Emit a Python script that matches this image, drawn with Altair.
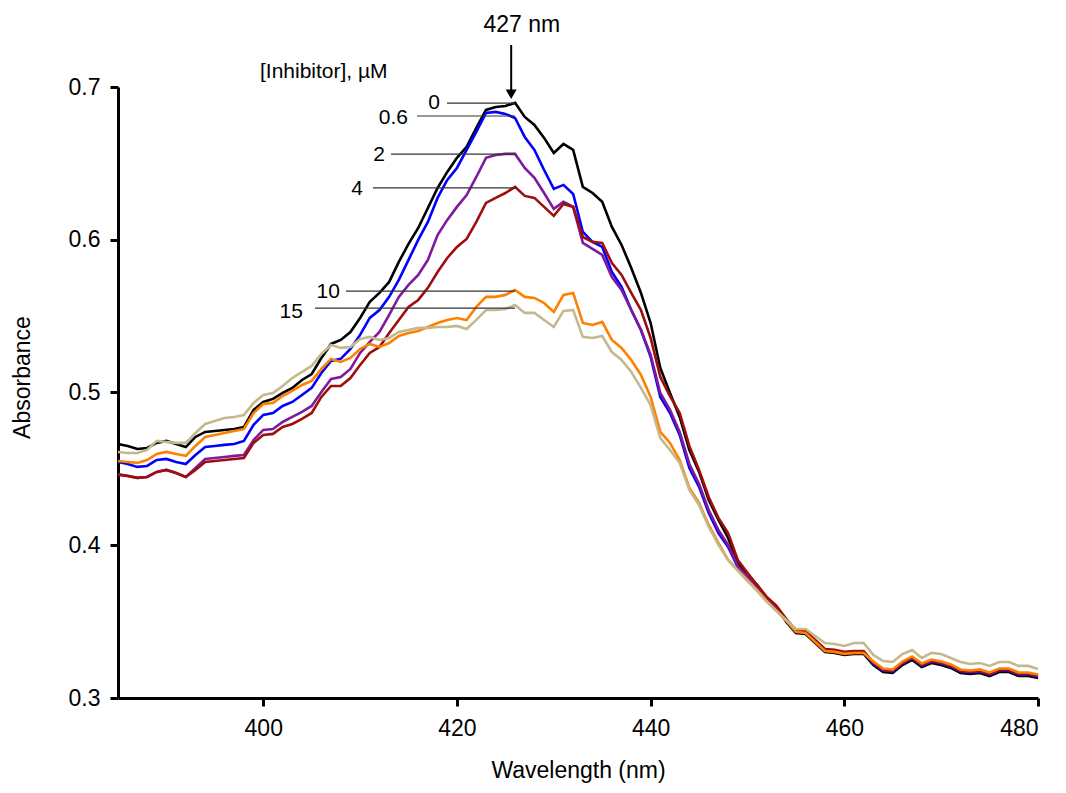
import altair as alt
import pandas as pd

wavelength = list(range(385, 481))
conc_labels = ["0", "0.6", "2", "4", "10", "15"]
colors = ["#000000", "#0000FF", "#7F1A9E", "#A00D0D", "#FF8000", "#C4B98C"]

abs_0 = [0.4663, 0.4650, 0.4630, 0.4637, 0.4670, 0.4683, 0.4663, 0.4643, 0.4709, 0.4742,
         0.4748, 0.4755, 0.4761, 0.4774, 0.4886, 0.4938, 0.4958, 0.4997, 0.5030, 0.5082,
         0.5121, 0.5226, 0.5318, 0.5344, 0.5396, 0.5488, 0.5593, 0.5652, 0.5724, 0.5855,
         0.5973, 0.6077, 0.6208, 0.6339, 0.6444, 0.6536, 0.6608, 0.6732, 0.6850, 0.6869,
         0.6876, 0.6896, 0.6804, 0.6752, 0.6667, 0.6568, 0.6627, 0.6588, 0.6346, 0.6306,
         0.6248, 0.6084, 0.5966, 0.5815, 0.5652, 0.5455, 0.5161, 0.4997, 0.4840, 0.4624,
         0.4480, 0.4296, 0.4166, 0.4048, 0.3884, 0.3792, 0.3740, 0.3655, 0.3596,
         0.3498, 0.3426, 0.3419, 0.3360, 0.3301, 0.3295, 0.3282, 0.3288, 0.3288, 0.3216,
         0.3170, 0.3164, 0.3216, 0.3249, 0.3203, 0.3229, 0.3216, 0.3197, 0.3164, 0.3157,
         0.3164, 0.3144, 0.3170, 0.3170, 0.3144, 0.3144, 0.3131]

abs_06 = [0.4545, 0.4532, 0.4513, 0.4519, 0.4558, 0.4565, 0.4545, 0.4532, 0.4591, 0.4643,
          0.4650, 0.4657, 0.4663, 0.4683, 0.4788, 0.4853, 0.4866, 0.4912, 0.4938, 0.4984,
          0.5030, 0.5128, 0.5207, 0.5220, 0.5285, 0.5377, 0.5488, 0.5540, 0.5626, 0.5737,
          0.5868, 0.5999, 0.6117, 0.6274, 0.6392, 0.6470, 0.6588, 0.6706, 0.6830, 0.6837,
          0.6824, 0.6797, 0.6673, 0.6588, 0.6457, 0.6333, 0.6359, 0.6300, 0.6051, 0.5986,
          0.5953, 0.5789, 0.5691, 0.5540, 0.5409, 0.5233, 0.4971, 0.4866, 0.4722, 0.4506,
          0.4382, 0.4211, 0.4080, 0.3989, 0.3858, 0.3786, 0.3720, 0.3642, 0.3583,
          0.3508, 0.3436, 0.3429, 0.3370, 0.3311, 0.3305, 0.3292, 0.3298, 0.3298, 0.3226,
          0.3180, 0.3174, 0.3226, 0.3259, 0.3213, 0.3239, 0.3226, 0.3207, 0.3174, 0.3167,
          0.3174, 0.3154, 0.3180, 0.3180, 0.3154, 0.3154, 0.3141]

abs_2 = [0.4467, 0.4454, 0.4441, 0.4447, 0.4480, 0.4493, 0.4473, 0.4447, 0.4506, 0.4565,
         0.4571, 0.4578, 0.4585, 0.4591, 0.4689, 0.4755, 0.4761, 0.4807, 0.4840, 0.4873,
         0.4912, 0.5004, 0.5089, 0.5102, 0.5154, 0.5259, 0.5331, 0.5396, 0.5508, 0.5626,
         0.5704, 0.5770, 0.5868, 0.6031, 0.6130, 0.6215, 0.6293, 0.6411, 0.6536, 0.6555,
         0.6562, 0.6562, 0.6470, 0.6405, 0.6306, 0.6202, 0.6248, 0.6215, 0.5979, 0.5940,
         0.5901, 0.5756, 0.5671, 0.5540, 0.5409, 0.5246, 0.4997, 0.4886, 0.4742, 0.4532,
         0.4401, 0.4231, 0.4100, 0.4002, 0.3864, 0.3792, 0.3727, 0.3648, 0.3589,
         0.3511, 0.3439, 0.3432, 0.3373, 0.3314, 0.3308, 0.3295, 0.3301, 0.3301, 0.3229,
         0.3183, 0.3177, 0.3229, 0.3262, 0.3216, 0.3242, 0.3229, 0.3210, 0.3177, 0.3170,
         0.3177, 0.3157, 0.3183, 0.3183, 0.3157, 0.3157, 0.3144]

abs_4 = [0.4460, 0.4454, 0.4441, 0.4447, 0.4480, 0.4493, 0.4473, 0.4447, 0.4493, 0.4545,
         0.4552, 0.4558, 0.4565, 0.4571, 0.4670, 0.4722, 0.4729, 0.4774, 0.4794, 0.4827,
         0.4866, 0.4971, 0.5043, 0.5043, 0.5095, 0.5180, 0.5259, 0.5298, 0.5390, 0.5475,
         0.5560, 0.5606, 0.5685, 0.5789, 0.5881, 0.5953, 0.6005, 0.6117, 0.6241, 0.6274,
         0.6306, 0.6346, 0.6287, 0.6274, 0.6215, 0.6156, 0.6234, 0.6215, 0.6018, 0.5986,
         0.5979, 0.5848, 0.5770, 0.5652, 0.5540, 0.5357, 0.5102, 0.4977, 0.4866, 0.4650,
         0.4493, 0.4316, 0.4179, 0.4080, 0.3904, 0.3819, 0.3740, 0.3661, 0.3603,
         0.3518, 0.3446, 0.3439, 0.3380, 0.3321, 0.3315, 0.3302, 0.3308, 0.3308, 0.3232,
         0.3186, 0.3180, 0.3232, 0.3265, 0.3219, 0.3245, 0.3232, 0.3213, 0.3180, 0.3173,
         0.3180, 0.3160, 0.3186, 0.3186, 0.3160, 0.3160, 0.3147]

abs_10 = [0.4552, 0.4545, 0.4539, 0.4558, 0.4598, 0.4611, 0.4598, 0.4585, 0.4650, 0.4709,
          0.4722, 0.4735, 0.4748, 0.4761, 0.4866, 0.4925, 0.4932, 0.4977, 0.5010, 0.5049,
          0.5076, 0.5154, 0.5220, 0.5200, 0.5226, 0.5285, 0.5318, 0.5298, 0.5324, 0.5370,
          0.5390, 0.5403, 0.5429, 0.5455, 0.5475, 0.5488, 0.5475, 0.5560, 0.5626, 0.5626,
          0.5639, 0.5671, 0.5626, 0.5619, 0.5586, 0.5527, 0.5639, 0.5652, 0.5455, 0.5442,
          0.5462, 0.5344, 0.5292, 0.5213, 0.5115, 0.4971, 0.4742, 0.4670, 0.4558, 0.4375,
          0.4277, 0.4133, 0.4015, 0.3904, 0.3838, 0.3773, 0.3707, 0.3635, 0.3570,
          0.3505, 0.3433, 0.3426, 0.3367, 0.3308, 0.3302, 0.3289, 0.3295, 0.3295, 0.3239,
          0.3193, 0.3187, 0.3239, 0.3272, 0.3226, 0.3252, 0.3239, 0.3220, 0.3187, 0.3180,
          0.3187, 0.3167, 0.3193, 0.3193, 0.3167, 0.3167, 0.3154]

abs_15 = [0.4611, 0.4604, 0.4604, 0.4624, 0.4683, 0.4676, 0.4670, 0.4670, 0.4735, 0.4794,
          0.4814, 0.4833, 0.4840, 0.4853, 0.4932, 0.4984, 0.4997, 0.5043, 0.5095, 0.5135,
          0.5174, 0.5252, 0.5311, 0.5292, 0.5298, 0.5351, 0.5364, 0.5344, 0.5357, 0.5396,
          0.5409, 0.5423, 0.5423, 0.5429, 0.5429, 0.5436, 0.5416, 0.5475, 0.5540, 0.5540,
          0.5547, 0.5573, 0.5521, 0.5521, 0.5475, 0.5429, 0.5534, 0.5540, 0.5364, 0.5357,
          0.5370, 0.5265, 0.5213, 0.5135, 0.5030, 0.4918, 0.4702, 0.4624, 0.4539, 0.4362,
          0.4264, 0.4120, 0.4002, 0.3904, 0.3832, 0.3766, 0.3701, 0.3629, 0.3570,
          0.3511, 0.3452, 0.3452, 0.3406, 0.3360, 0.3354, 0.3341, 0.3360, 0.3360, 0.3282,
          0.3242, 0.3236, 0.3288, 0.3314, 0.3262, 0.3295, 0.3288, 0.3262, 0.3236, 0.3223,
          0.3229, 0.3210, 0.3236, 0.3236, 0.3210, 0.3210, 0.3190]

series = [abs_0, abs_06, abs_2, abs_4, abs_10, abs_15]

# label annotations (concentration labels with leader lines)
label_x = [418.25, 414.95, 412.57, 410.3, 407.92, 404.1]
label_y = [0.6895, 0.6797, 0.6555, 0.6332, 0.5658, 0.5527]
lead_x1 = [418.97, 415.87, 413.19, 411.33, 408.54, 405.34]
lead_x2 = [426.0, 426.0, 426.0, 426.0, 426.0, 426.0]
lead_y = [0.6895, 0.681, 0.6561, 0.6339, 0.5664, 0.5553]

rows = []
for lab, vals in zip(conc_labels, series):
    for w, v in zip(wavelength, vals):
        rows.append({"wl": w, "A": v, "conc": lab})
df = pd.DataFrame(rows)

FONT = "Liberation Sans"
xs = alt.Scale(domain=[385, 480], nice=False, zero=False)
ys = alt.Scale(domain=[0.3, 0.7], nice=False, zero=False)

lines = alt.Chart(df).mark_line(strokeWidth=2.6).encode(
    x=alt.X("wl:Q", scale=xs,
            axis=alt.Axis(values=[400, 420, 440, 460, 480], title="Wavelength (nm)",
                          labelPadding=11, titleY=72, titleBaseline="middle")),
    y=alt.Y("A:Q", scale=ys,
            axis=alt.Axis(values=[0.3, 0.4, 0.5, 0.6, 0.7], format=".1f", title="Absorbance",
                          labelPadding=10, titleX=-96, titleY=290, titleAngle=270,
                          titleAlign="center", titleBaseline="middle")),
    color=alt.Color("conc:N", scale=alt.Scale(domain=conc_labels, range=colors), legend=None),
    detail="conc:N",
)

lab_df = pd.DataFrame({"label": conc_labels, "tx": label_x, "ty": label_y})
labels = alt.Chart(lab_df).mark_text(align="right", baseline="middle", fontSize=21,
                                     font=FONT, color="black").encode(
    x=alt.X("tx:Q", scale=xs),
    y=alt.Y("ty:Q", scale=ys),
    text="label:N",
)

lead_df = pd.DataFrame({"x1": lead_x1, "x2": lead_x2, "y": lead_y})
leaders = alt.Chart(lead_df).mark_rule(color="#333333", strokeWidth=1.2).encode(
    x=alt.X("x1:Q", scale=xs),
    x2="x2:Q",
    y=alt.Y("y:Q", scale=ys),
)

head_df = pd.DataFrame({"x": [399.66], "y": [0.7098], "t": ["[Inhibitor], µM"]})
header = alt.Chart(head_df).mark_text(align="left", baseline="middle", fontSize=21,
                                      font=FONT, color="black").encode(
    x=alt.X("x:Q", scale=xs),
    y=alt.Y("y:Q", scale=ys),
    text="t:N",
)

peak_df = pd.DataFrame({"x": [426.7], "y": [0.7406], "t": ["427 nm"]})
peak_txt = alt.Chart(peak_df).mark_text(align="center", baseline="middle", fontSize=23,
                                        font=FONT, color="black").encode(
    x=alt.X("x:Q", scale=xs),
    y=alt.Y("y:Q", scale=ys),
    text="t:N",
)

arrow_df = pd.DataFrame({"x": [425.6], "y1": [0.7275], "y2": [0.698]})
arrow_shaft = alt.Chart(arrow_df).mark_rule(color="black", strokeWidth=2).encode(
    x=alt.X("x:Q", scale=xs),
    y=alt.Y("y1:Q", scale=ys),
    y2="y2:Q",
)
head_pt = pd.DataFrame({"x": [425.6], "y": [0.6952]})
arrow_head = alt.Chart(head_pt).mark_point(shape="triangle-down", filled=True, size=120,
                                           color="black", opacity=1).encode(
    x=alt.X("x:Q", scale=xs),
    y=alt.Y("y:Q", scale=ys),
)

chart = alt.layer(lines, leaders, labels, header, peak_txt, arrow_shaft, arrow_head).properties(
    width=920, height=611, autosize="none",
    padding={"left": 110, "top": 79, "right": 20, "bottom": 86},
).configure_view(stroke=None).configure_axis(
    grid=False, domainColor="black", domainWidth=3, tickColor="black", tickWidth=3,
    tickSize=8, labelFont=FONT, labelFontSize=23, labelColor="black",
    titleFont=FONT, titleFontSize=23, titleFontWeight="normal", titleColor="black",
)

chart.save("out.html", embed_options={"renderer": "svg", "actions": False})
